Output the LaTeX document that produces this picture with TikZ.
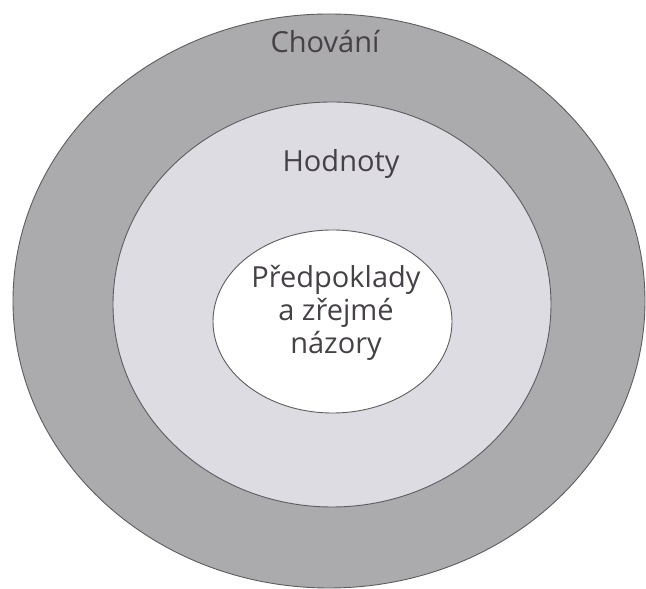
\documentclass[tikz,border=0pt]{standalone}
\usepackage{fontspec}
\setmainfont{Open Sans}
\usepackage{xcolor}
\usepackage{tikz}
\usetikzlibrary{shapes.geometric}

\definecolor{ringdark}{HTML}{ABAAAD}
\definecolor{ringlight}{HTML}{DDDCE2}
\definecolor{ringline}{HTML}{5E5C60}
\definecolor{labeltext}{HTML}{454146}

\begin{document}
\begin{tikzpicture}[
  x=1pt, y=1pt,
  ring/.style={ellipse, draw=ringline, line width=0.9pt, inner sep=0pt},
  lbl/.style={text=labeltext, align=center, font=\fontsize{29}{33}\selectfont}
]
\useasboundingbox[fill=white] (0,0) rectangle (646,589);

% Layers from outside in
\node[ring, fill=ringdark, minimum width=632, minimum height=574] (behaviour) at (329, 288) {};
\node[ring, fill=ringlight, minimum width=438, minimum height=405] (values) at (332, 284.5) {};
\node[ring, fill=white, minimum width=239, minimum height=183] (assumptions) at (332.5, 267.5) {};

% Labels
\node[lbl] (behaviourtext) at (325, 547) {Chování};
\node[lbl] (valuestext) at (341, 425) {Hodnoty};
\node[lbl] (assumptionstext) at (336, 276) {Předpoklady\\a zřejmé\\názory};

\end{tikzpicture}
\end{document}
